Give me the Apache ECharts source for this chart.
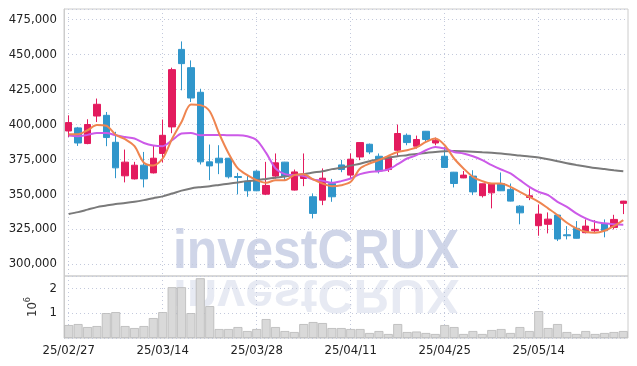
<!DOCTYPE html>
<html>
<head>
<meta charset="utf-8">
<script src="https://cdn.jsdelivr.net/npm/echarts@6/dist/echarts.min.js"></script>
<style>
  html, body { margin: 0; padding: 0; background: #fff; }
  #chart { width: 637px; height: 366px; }
</style>
</head>
<body>
<div id="chart"></div>
<script>
// trading days
const dates = ['25/02/27', '25/02/28', '25/03/04', '25/03/05', '25/03/06', '25/03/07', '25/03/10', '25/03/11', '25/03/12', '25/03/13',
  '25/03/14', '25/03/17', '25/03/18', '25/03/19', '25/03/20', '25/03/21', '25/03/24', '25/03/25', '25/03/26', '25/03/27',
  '25/03/28', '25/03/31', '25/04/01', '25/04/02', '25/04/03', '25/04/04', '25/04/07', '25/04/08', '25/04/09', '25/04/10',
  '25/04/11', '25/04/14', '25/04/15', '25/04/16', '25/04/17', '25/04/18', '25/04/21', '25/04/22', '25/04/23', '25/04/24',
  '25/04/25', '25/04/28', '25/04/29', '25/04/30', '25/05/02', '25/05/07', '25/05/08', '25/05/09', '25/05/12', '25/05/13',
  '25/05/14', '25/05/15', '25/05/16', '25/05/19', '25/05/20', '25/05/21', '25/05/22', '25/05/23', '25/05/26', '25/05/27'];

const opens = [395200, 397400, 386200, 405900, 406400, 387100, 363100, 360900, 370700, 365200,
  379100, 398100, 453600, 440500, 422900, 373100, 375700, 375700, 362600, 359300,
  366400, 350000, 362900, 372900, 352900, 361200, 348100, 345700, 357600, 370900,
  363600, 376600, 385700, 377100, 367600, 381400, 392100, 384300, 395000, 386600,
  377100, 365700, 361600, 362900, 348900, 350900, 357600, 353400, 341400, 347600,
  327400, 328400, 335000, 320900, 325500, 322400, 323800, 328600, 326200, 343400];
const closes = [401200, 386600, 399800, 414300, 390500, 368800, 372900, 370700, 360900, 375700,
  392100, 439100, 443400, 418800, 373100, 370200, 372400, 362400, 361900, 352400,
  352400, 356200, 372400, 362900, 365900, 364300, 336200, 361400, 348100, 367600,
  375000, 386900, 380200, 366600, 376600, 393400, 386900, 389100, 389100, 388600,
  369100, 357600, 363600, 351600, 357400, 357600, 352400, 345000, 336600, 348800,
  335700, 332100, 317900, 320200, 318400, 327100, 324800, 323800, 331900, 345000];
const lows = [390900, 384500, 385700, 401600, 384300, 361400, 358400, 360500, 354800, 364800,
  372600, 393600, 424300, 415900, 371200, 360000, 364300, 361200, 349800, 348100,
  352100, 349300, 361200, 360000, 352600, 355700, 332600, 342100, 344500, 365700,
  361200, 374300, 378600, 364800, 365900, 377400, 385000, 382600, 387400, 385000,
  368900, 354800, 361400, 349300, 347600, 339800, 352200, 344800, 328400, 345700,
  320200, 321900, 316400, 317600, 318200, 321900, 322400, 319100, 324800, 335700];
const highs = [406400, 398100, 403600, 418400, 408800, 394600, 381900, 373100, 380200, 385000,
  403400, 440500, 459300, 445700, 425400, 385500, 385000, 375900, 365200, 363600,
  367100, 373100, 379100, 373100, 367600, 379100, 350500, 368400, 360900, 374500,
  379100, 387300, 386200, 379100, 376800, 399800, 393400, 391900, 395200, 390500,
  383800, 365900, 366600, 367100, 357500, 357800, 365500, 357600, 342100, 354100,
  342600, 336900, 335200, 327100, 330700, 331900, 331400, 331900, 335200, 345200];

const volumes = [520000, 560000, 440000, 480000, 1000000, 1040000, 480000, 400000, 480000, 800000,
  1040000, 2040000, 2040000, 1000000, 2400000, 1280000, 360000, 360000, 440000, 280000,
  360000, 760000, 440000, 280000, 240000, 560000, 640000, 600000, 400000, 400000,
  360000, 360000, 200000, 280000, 160000, 560000, 240000, 260000, 200000, 160000,
  520000, 440000, 160000, 280000, 160000, 320000, 360000, 200000, 440000, 280000,
  1080000, 400000, 560000, 240000, 160000, 280000, 160000, 200000, 240000, 280000];

const ma5 = [392900, 392900, 395700, 399400, 398900, 392500, 389300, 384300, 372500, 370500,
  375500, 389600, 401600, 414100, 413700, 409300, 393400, 379300, 368400, 363600,
  360000, 358100, 360000, 360000, 363600, 364300, 360500, 357600, 355700, 356400,
  358800, 368400, 371900, 374300, 377400, 380200, 381400, 383400, 387400, 389800,
  385000, 375500, 368400, 362400, 359300, 357600, 357600, 355200, 351600, 348100,
  344500, 339800, 335000, 329500, 325500, 323100, 322400, 323800, 327100, 331400];
const ma10 = [391900, 391400, 392400, 393800, 393800, 392100, 390900, 389800, 386600, 384800,
  384300, 388600, 393400, 393800, 392100, 392400, 392400, 392100, 392100, 391400,
  388600, 379500, 368400, 364300, 363600, 362900, 360500, 359500, 358100, 359300,
  361200, 364300, 365900, 366400, 367600, 371400, 375500, 377900, 381400, 383800,
  382600, 380200, 379100, 377100, 374300, 370700, 367600, 364800, 360000, 355200,
  351600, 349300, 344500, 340900, 336200, 332600, 330200, 329100, 328400, 328100];
const ma60 = [335700, 337100, 338900, 340700, 341800, 342900, 343600, 344500, 345700, 347100,
  348400, 350400, 352500, 354100, 355000, 355700, 356600, 357500, 358400, 359300,
  360000, 360900, 361800, 362600, 363600, 364300, 365400, 366400, 367900, 368900,
  370400, 371800, 373600, 374800, 376100, 377100, 377900, 378800, 379500, 380200,
  380700, 380900, 380700, 380400, 380000, 379600, 379100, 378400, 377600, 377000,
  376200, 375000, 373600, 372100, 370900, 369800, 368700, 367900, 367100, 366400];

const labelFont = '"DejaVu Sans Condensed", "DejaVu Sans", sans-serif';
const gridDot = { color: '#c3c9dc', type: [1, 3], width: 1 };

const chart = echarts.init(document.getElementById('chart'));

const candles = dates.map(function (d, i) {
  return [opens[i], closes[i], lows[i], highs[i]];
});

const option = {
  animation: false,
  backgroundColor: '#fff',
  graphic: [
    {
      type: 'text',
      x: 316,
      y: 281,
      scaleY: 1.12,
      z: 0,
      style: {
        text: 'investCRUX',
        font: 'bold 50px "Liberation Sans"',
        fill: '#cfd5e8',
        align: 'center',
        verticalAlign: 'bottom'
      }
    },
    {
      type: 'text',
      x: 316,
      y: 269,
      scaleY: -0.95,
      z: 0,
      style: {
        text: 'investCRUX',
        font: 'bold 50px "Liberation Sans"',
        fill: '#cfd5e8',
        opacity: 0.5,
        align: 'center',
        verticalAlign: 'bottom'
      }
    }
  ],
  grid: [
    { left: 64, right: 9, top: 9, height: 267, show: true, borderColor: '#cccccc', borderWidth: 1 },
    { left: 64, right: 9, top: 276, height: 62, show: true, borderColor: '#cccccc', borderWidth: 1 }
  ],
  xAxis: [
    {
      type: 'category',
      gridIndex: 0,
      data: dates,
      axisLine: { show: false },
      axisTick: { show: false },
      axisLabel: { show: false },
      splitLine: { show: true, interval: 9, alignWithLabel: true, lineStyle: gridDot }
    },
    {
      type: 'category',
      gridIndex: 1,
      data: dates,
      axisLine: { show: false },
      axisTick: { show: false },
      axisLabel: {
        interval: 9,
        color: '#222',
        fontFamily: labelFont,
        fontSize: 13,
        margin: 6
      },
      splitLine: { show: true, interval: 9, alignWithLabel: true, lineStyle: gridDot }
    }
  ],
  yAxis: [
    {
      type: 'value',
      gridIndex: 0,
      min: 291400,
      max: 482500,
      minInterval: 25000,
      maxInterval: 25000,
      axisLine: { show: true, lineStyle: { color: '#cccccc' } },
      axisTick: { show: false },
      axisLabel: {
        color: '#222',
        fontFamily: labelFont,
        fontSize: 13,
        margin: 7,
        formatter: function (v) {
          if (v % 25000 !== 0) {
            return '';
          }
          return v.toLocaleString('en-US');
        }
      },
      splitLine: { show: true, lineStyle: gridDot }
    },
    {
      type: 'value',
      gridIndex: 1,
      min: 0,
      max: 2490000,
      minInterval: 1000000,
      maxInterval: 1000000,
      name: '{b|10}{s|6}',
      nameLocation: 'middle',
      nameRotate: 90,
      nameGap: 22,
      nameTextStyle: {
        rich: {
          b: { fontFamily: labelFont, fontSize: 13, color: '#333', lineHeight: 16, verticalAlign: 'bottom' },
          s: { fontFamily: labelFont, fontSize: 9, color: '#333', lineHeight: 16, verticalAlign: 'top' }
        }
      },
      axisLine: { show: true, lineStyle: { color: '#cccccc' } },
      axisTick: { show: false },
      axisLabel: {
        color: '#222',
        fontFamily: labelFont,
        fontSize: 13,
        margin: 7,
        formatter: function (v) {
          if (v <= 0 || v % 1000000 !== 0) {
            return '';
          }
          return String(v / 1000000);
        }
      },
      splitLine: { show: true, lineStyle: gridDot }
    }
  ],
  series: [
    {
      name: 'price',
      type: 'candlestick',
      xAxisIndex: 0,
      yAxisIndex: 0,
      data: candles,
      barWidth: 7,
      itemStyle: {
        color: '#e31b5e',
        color0: '#3096cb',
        borderColor: '#e31b5e',
        borderColor0: '#3096cb',
        borderWidth: 1
      }
    },
    {
      name: 'MA60',
      type: 'line',
      xAxisIndex: 0,
      yAxisIndex: 0,
      data: ma60,
      symbol: 'none',
      smooth: 0.3,
      lineStyle: { color: '#7a7a7a', width: 2 }
    },
    {
      name: 'MA10',
      type: 'line',
      xAxisIndex: 0,
      yAxisIndex: 0,
      data: ma10,
      symbol: 'none',
      smooth: 0.3,
      lineStyle: { color: '#cc5ae8', width: 2 }
    },
    {
      name: 'MA5',
      type: 'line',
      xAxisIndex: 0,
      yAxisIndex: 0,
      data: ma5,
      symbol: 'none',
      smooth: 0.3,
      lineStyle: { color: '#ef8550', width: 2 }
    },
    {
      name: 'volume',
      type: 'bar',
      xAxisIndex: 1,
      yAxisIndex: 1,
      data: volumes,
      barWidth: 9,
      itemStyle: {
        color: '#d9d9d9',
        borderColor: '#b8b8b8',
        borderWidth: 0.8
      }
    }
  ]
};

chart.setOption(option);
</script>
</body>
</html>
